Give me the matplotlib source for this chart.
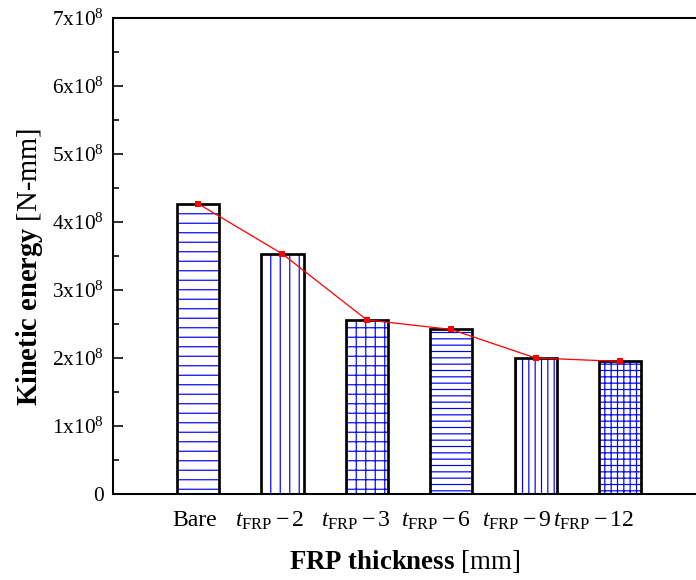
import matplotlib
matplotlib.use("Agg")
import matplotlib.pyplot as plt
import matplotlib.transforms as mtransforms
from matplotlib.ticker import MultipleLocator, FixedLocator

# Kinetic energy for each FRP thickness case
categories = ["Bare", r"$t_{\mathrm{FRP}}-2$", r"$t_{\mathrm{FRP}}-3$",
              r"$t_{\mathrm{FRP}}-6$", r"$t_{\mathrm{FRP}}-9$", r"$t_{\mathrm{FRP}}-12$"]
energy = [4.27e8, 3.53e8, 2.56e8, 2.42e8, 2.00e8, 1.95e8]
hatches = ["--", "||", "++", "---", "|||", "+++"]
ytick_values = [0, 1e8, 2e8, 3e8, 4e8, 5e8, 6e8, 7e8]
ytick_labels = ["0"] + [rf"${i}\mathrm{{x}}10^{{8}}$" for i in range(1, 8)]

DPI = 114
plt.rcParams.update({
    "font.family": ["Liberation Serif", "DejaVu Serif"],
    "mathtext.fontset": "custom",
    "mathtext.rm": "Liberation Serif",
    "mathtext.it": "Liberation Serif:italic",
    "mathtext.bf": "Liberation Serif:bold",
    "hatch.linewidth": 0.75,
})

fig = plt.figure(figsize=(696 / DPI, 580 / DPI), dpi=DPI)
ax = fig.add_axes([113 / 696, 86 / 580, 1 - 113 / 696, (494 - 18) / 580])

x = list(range(len(categories)))
# hatch fill in blue, then black outline on top
ax.bar(x, energy, width=0.5, color="white", edgecolor="blue", linewidth=0,
       hatch=hatches, zorder=2)
ax.bar(x, energy, width=0.5, fill=False, edgecolor="black", linewidth=1.7, zorder=3)
ax.plot(x, energy, color="red", linewidth=0.8, marker="s", markersize=3.6,
        markeredgewidth=0, zorder=4)

ax.set_xlim(-1.007, 5.9)
ax.set_ylim(0, 7e8)
ax.set_xticks(x)
ax.set_xticklabels(categories, fontsize=15)
ax.tick_params(axis="x", length=0, pad=10)
# nudge the category labels slightly left (in pixels)
label_shift_px = [-3, -13, -11, -15, -19, -26]
for lab, dx in zip(ax.get_xticklabels(), label_shift_px):
    lab.set_transform(lab.get_transform() +
                      mtransforms.ScaledTranslation(dx / DPI, 0, fig.dpi_scale_trans))

ax.yaxis.set_major_locator(FixedLocator(ytick_values))
ax.set_yticklabels(ytick_labels, fontsize=13.5)
ax.yaxis.set_minor_locator(MultipleLocator(0.5e8))
ax.tick_params(axis="y", which="major", direction="in", length=6, width=1.0, pad=6)
ax.tick_params(axis="y", which="minor", direction="in", length=3.5, width=1.0)

for side in ("left", "top", "bottom"):
    ax.spines[side].set_linewidth(1.3)
ax.spines["right"].set_visible(False)

ax.set_ylabel(r"$\mathbf{Kinetic\ energy}$ [N-mm]", fontsize=18)
ax.yaxis.set_label_coords((45 - 113) / 583, (494 - 267) / 476)
ax.set_xlabel(r"$\mathbf{FRP\ thickness}$ [mm]", fontsize=17, labelpad=10)

fig.savefig("out.png", dpi=DPI)
